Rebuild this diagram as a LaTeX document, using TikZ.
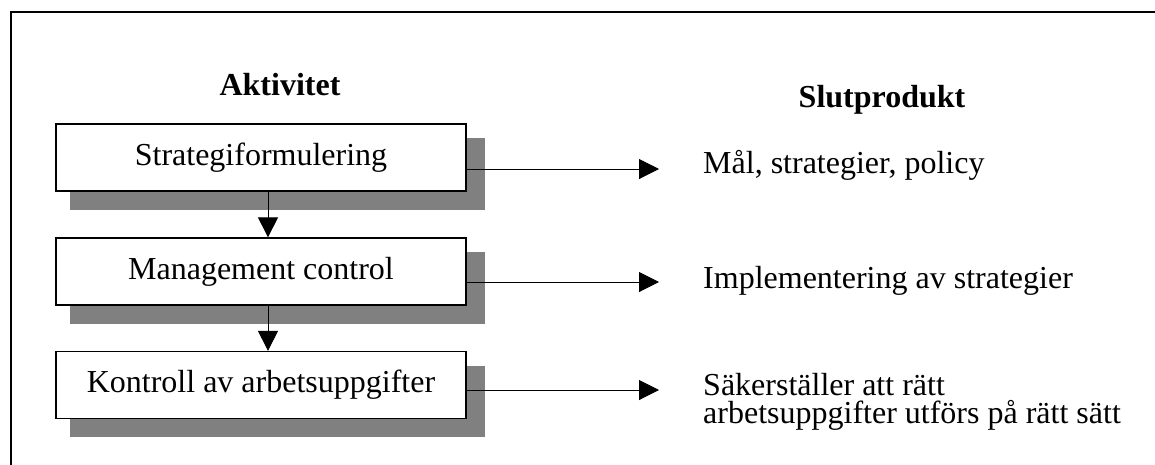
\documentclass[tikz,border=0pt]{standalone}
\usepackage{fontspec}
\setmainfont{Liberation Serif}
\usetikzlibrary{arrows.meta,calc,backgrounds}
\definecolor{shadowgray}{HTML}{808080}
\begin{document}
\begin{tikzpicture}[x=1pt,y=-1pt,
  every node/.style={font=\fontsize{32}{28}\selectfont, inner sep=0pt},
  actbox/.style={draw, line width=1.3pt, fill=white, minimum width=410pt, minimum height=67pt},
  heading/.style={font=\fontsize{32}{28}\selectfont\bfseries, anchor=base},
  result/.style={anchor=base west, align=left},
  flow/.style={line width=1pt, -{Triangle[length=20pt,width=20pt]}},
  boxshadow/.style={fill=shadowgray}]
  \useasboundingbox (0,0) rectangle (1155,464);
  \clip (0,0) rectangle (1155,464);

  % outer frame (continues past the right and bottom edges)
  \draw[line width=1.3pt] (11,12) rectangle (1200,520);

  % column headings
  \node[heading] (hAkt) at (280,95) {Aktivitet};
  \node[heading] (hSlut) at (882,107) {Slutprodukt};

  % activity boxes
  \node[actbox] (b1) at (261,157.5) {Strategiformulering};
  \node[actbox] (b2) at (261,271.5) {Management control};
  \node[actbox] (b3) at (261,385) {Kontroll av arbetsuppgifter};

  % drop shadows
  \begin{scope}[on background layer]
    \foreach \b in {b1,b2,b3}
      \fill[boxshadow] ($(\b.south west)+(15,18)$) rectangle ($(\b.north east)+(18,15)$);
  \end{scope}

  % end products (the two-line text is anchored on its last baseline)
  \node[result] (r1) at (703,173) {Mål, strategier, policy};
  \node[result] (r2) at (703,288) {Implementering av strategier};
  \node[result] (r3) at (703,423) {Säkerställer att rätt\\[0pt]arbetsuppgifter utförs på rätt sätt};

  % arrow end points in front of the product texts
  \coordinate (e1) at (659,169);
  \coordinate (e2) at (659,282);
  \coordinate (e3) at (659,390);

  % vertical flow between activities
  \draw[flow] ([xshift=7pt]b1.south) -- ([xshift=7pt]b2.north);
  \draw[flow] ([xshift=7pt]b2.south) -- ([xshift=7pt]b3.north);

  % activity to end product
  \draw[flow] (b1.east |- e1) -- (e1);
  \draw[flow] (b2.east |- e2) -- (e2);
  \draw[flow] (b3.east |- e3) -- (e3);
\end{tikzpicture}
\end{document}
